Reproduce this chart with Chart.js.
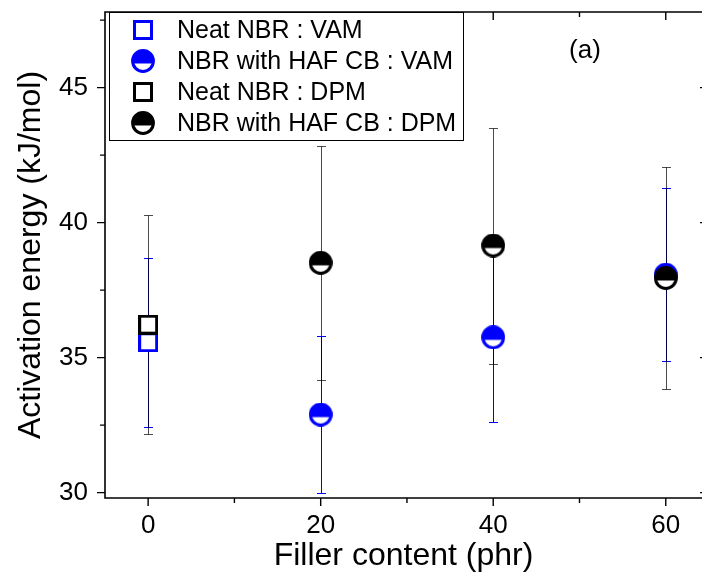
<!DOCTYPE html>
<html>
<head>
<meta charset="utf-8">
<script src="https://cdn.jsdelivr.net/npm/chart.js@4.4.1/dist/chart.umd.min.js"></script>
<style>
  html, body { margin: 0; padding: 0; background: #fff; }
  #wrap { width: 702px; height: 579px; }
</style>
</head>
<body>
<div id="wrap"><canvas id="chart" width="702" height="579"></canvas></div>
<script>
var xTicks = [0, 20, 40, 60];
var yTicks = [30, 35, 40, 45];

// neat rubber, only at 0 phr
var neatX = [0];
var neatVam = [35.57];
var neatVamErr = [3.13];
var neatDpm = [36.22];
var neatDpmErr = [4.05];

// rubber with HAF carbon black
var cbX = [20, 40, 60];
var cbVam = [32.89, 35.75, 38.07];
var cbVamErr = [2.9, 3.13, 3.2];
var cbDpm = [38.51, 39.15, 37.95];
var cbDpmErr = [4.34, 4.37, 4.12];

var BLUE = '#0000ff';
var FONT = "'Liberation Sans', Arial, sans-serif";

function squareMarker(color) {
    var c = document.createElement('canvas');
    c.width = 20; c.height = 20;
    var g = c.getContext('2d');
    g.fillStyle = '#fff';
    g.fillRect(1.5, 1.5, 17, 17);
    g.strokeStyle = color;
    g.lineWidth = 3;
    g.strokeRect(1.5, 1.5, 17, 17);
    return c;
}

function halfCircleMarker(color) {
    var c = document.createElement('canvas');
    c.width = 24; c.height = 24;
    var g = c.getContext('2d');
    var r = 10.4;
    g.beginPath(); g.arc(12, 12, r, 0, Math.PI * 2);
    g.fillStyle = '#fff'; g.fill();
    g.save();
    g.beginPath(); g.rect(0, 0, 24, 14.5); g.clip();
    g.beginPath(); g.arc(12, 12, r, 0, Math.PI * 2);
    g.fillStyle = color; g.fill();
    g.restore();
    g.beginPath(); g.arc(12, 12, r, 0, Math.PI * 2);
    g.strokeStyle = color; g.lineWidth = 3; g.stroke();
    return c;
}

function points(xs, ys) {
    return xs.map(function (x, i) { return { x: x, y: ys[i] }; });
}

var datasets = [
    { label: 'Neat NBR : VAM', data: points(neatX, neatVam), err: neatVamErr,
      pointStyle: squareMarker(BLUE), barColor: BLUE, order: 1 },
    { label: 'NBR with HAF CB : VAM', data: points(cbX, cbVam), err: cbVamErr,
      pointStyle: halfCircleMarker(BLUE), barColor: BLUE, order: 1 },
    { label: 'Neat NBR : DPM', data: points(neatX, neatDpm), err: neatDpmErr,
      pointStyle: squareMarker('#000'), barColor: 'rgba(0,0,0,0.7)', order: 0 },
    { label: 'NBR with HAF CB : DPM', data: points(cbX, cbDpm), err: cbDpmErr,
      pointStyle: halfCircleMarker('#000'), barColor: 'rgba(0,0,0,0.7)', order: 0 }
];
datasets.forEach(function (d) {
    d.showLine = false;
    d.pointRadius = 11;
    d.pointHoverRadius = 11;
});

var errorBars = {
    id: 'errorBars',
    beforeDatasetsDraw: function (chart) {
        var ctx = chart.ctx, xs = chart.scales.x, ys = chart.scales.y;
        ctx.save();
        ctx.lineWidth = 1;
        chart.data.datasets.forEach(function (ds) {
            ctx.strokeStyle = ds.barColor;
            ds.data.forEach(function (p, i) {
                var px = Math.round(xs.getPixelForValue(p.x)) + 0.5;
                var top = Math.round(ys.getPixelForValue(p.y + ds.err[i])) + 0.5;
                var bot = Math.round(ys.getPixelForValue(p.y - ds.err[i])) + 0.5;
                ctx.beginPath();
                ctx.moveTo(px, top); ctx.lineTo(px, bot);
                ctx.moveTo(px - 4.5, top); ctx.lineTo(px + 4.5, top);
                ctx.moveTo(px - 4.5, bot); ctx.lineTo(px + 4.5, bot);
                ctx.stroke();
            });
        });
        ctx.restore();
    }
};

var frameAndLegend = {
    id: 'frameAndLegend',
    afterDraw: function (chart) {
        var ctx = chart.ctx, a = chart.chartArea;
        var xs = chart.scales.x, ys = chart.scales.y;
        ctx.save();
        ctx.strokeStyle = '#000';
        ctx.lineWidth = 1.6;
        ctx.beginPath();
        ctx.moveTo(a.right + 2, a.top); ctx.lineTo(a.left, a.top);
        ctx.lineTo(a.left, a.bottom); ctx.lineTo(a.right + 2, a.bottom);
        ctx.stroke();

        ctx.lineWidth = 1.4;
        ctx.beginPath();
        xTicks.forEach(function (v, i) {
            var px = xs.getPixelForValue(v);
            ctx.moveTo(px, a.bottom); ctx.lineTo(px, a.bottom + 8);
            ctx.moveTo(px, a.top); ctx.lineTo(px, a.top + 8);
            if (i < xTicks.length - 1) {
                var mx = xs.getPixelForValue(v + 10);
                ctx.moveTo(mx, a.bottom); ctx.lineTo(mx, a.bottom + 5);
                ctx.moveTo(mx, a.top); ctx.lineTo(mx, a.top + 5);
            }
        });
        yTicks.forEach(function (v) {
            var py = ys.getPixelForValue(v);
            ctx.moveTo(a.left, py); ctx.lineTo(a.left - 8, py);
            ctx.moveTo(a.right, py); ctx.lineTo(a.right - 2, py);
            var my = ys.getPixelForValue(v + 2.5);
            ctx.moveTo(a.left, my); ctx.lineTo(a.left - 5, my);
        });
        ctx.stroke();

        // legend box
        var lx = a.left + 4, ly = a.top, lw = 354, lh = 128;
        ctx.fillStyle = '#fff';
        ctx.fillRect(lx, ly, lw, lh);
        ctx.lineWidth = 1;
        ctx.strokeStyle = '#000';
        ctx.strokeRect(lx + 0.5, ly + 0.5, lw, lh);
        ctx.font = '25px ' + FONT;
        ctx.textBaseline = 'middle';
        ctx.textAlign = 'left';
        ctx.fillStyle = '#000';
        chart.data.datasets.forEach(function (ds, i) {
            var cy = ly + 18 + i * 31;
            var img = ds.pointStyle;
            ctx.drawImage(img, lx + 34 - img.width / 2, cy - img.height / 2);
            ctx.fillText(ds.label, lx + 68, cy + 1);
        });

        ctx.font = '26px ' + FONT;
        ctx.textAlign = 'center';
        ctx.fillText('(a)', a.left + 480, a.top + 39);
        ctx.restore();
    }
};

var ctx = document.getElementById('chart').getContext('2d');
var chart = new Chart(ctx, {
    type: 'scatter',
    data: { datasets: datasets },
    options: {
        responsive: false,
        animation: false,
        layout: { autoPadding: false, padding: { top: 12, right: 0, left: 0, bottom: 0 } },
        plugins: { legend: { display: false }, tooltip: { enabled: false } },
        scales: {
            x: {
                type: 'linear',
                min: -5,
                max: 64.2,
                afterBuildTicks: function (s) { s.ticks = xTicks.map(function (v) { return { value: v }; }); },
                afterFit: function (s) { s.height = 81; s.paddingLeft = 0; s.paddingRight = 0; },
                grid: { display: false, drawTicks: false },
                border: { display: false },
                ticks: { color: '#000', font: { family: FONT, size: 26 }, padding: 12, maxRotation: 0, autoSkip: false },
                title: { display: true, text: 'Filler content (phr)', color: '#000',
                         font: { family: FONT, size: 32 }, padding: { top: 0, bottom: 4 } }
            },
            y: {
                type: 'linear',
                min: 29.8,
                max: 47.8,
                afterBuildTicks: function (s) { s.ticks = yTicks.map(function (v) { return { value: v }; }); },
                afterFit: function (s) { s.width = 105; s.paddingTop = 0; s.paddingBottom = 0; },
                grid: { display: false, drawTicks: false },
                border: { display: false },
                ticks: { color: '#000', font: { family: FONT, size: 26 }, padding: 17 },
                title: { display: true, text: 'Activation energy (kJ/mol)', color: '#000',
                         font: { family: FONT, size: 32 }, padding: { top: 12, bottom: 0 } }
            }
        }
    },
    plugins: [errorBars, frameAndLegend]
});
</script>
</body>
</html>
